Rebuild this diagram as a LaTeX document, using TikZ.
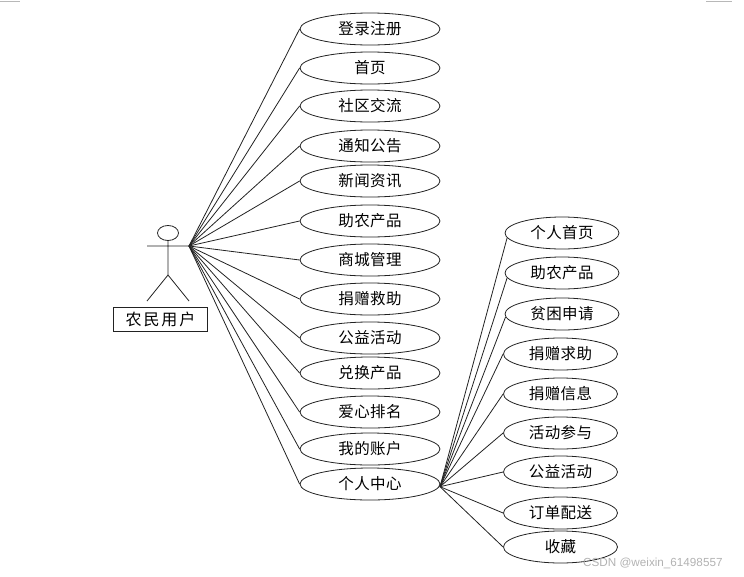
\documentclass[tikz,border=0pt]{standalone}
\usepackage{fontspec}
\setmainfont{Liberation Sans}
\newfontfamily\cjk[LetterSpace=3]{Noto Sans CJK SC}
\newfontfamily\cjkwide[LetterSpace=12]{Noto Sans CJK SC}
\usetikzlibrary{shapes.geometric}
\definecolor{linec}{HTML}{222222}
\tikzset{
  uc/.style={draw=linec,line width=0.8pt,ellipse,minimum width=140pt,minimum height=32pt,inner sep=0pt,font=\cjk\fontsize{15.5}{17}\selectfont},
  ucr/.style={uc,minimum width=114pt},
  link/.style={draw=linec,line width=0.8pt},
  actor/.style={draw=linec,line width=0.8pt},
  actorlabel/.style={draw=linec,line width=0.8pt,minimum width=94pt,minimum height=24.5pt,inner sep=0pt,font=\cjkwide\fontsize{16}{18}\selectfont},
  edgemark/.style={draw=black!28,line width=1pt},
  wm/.style={text=black!30,font=\fontsize{11.7}{13}\selectfont,inner sep=0pt}
}
\begin{document}
\begin{tikzpicture}[x=1pt,y=-1pt]
\useasboundingbox (0,0) rectangle (744,576);
\draw[edgemark] (0,1) -- (20,1);
\draw[edgemark] (706,1) -- (732,1);
% actor
\node[actor,ellipse,minimum width=21pt,minimum height=15pt,inner sep=0pt] (head) at (168,233) {};
\coordinate (hip) at (168,275);
\coordinate (armL) at (147,246);
\coordinate (hand) at (189,246);
\coordinate (footL) at (147,301);
\coordinate (footR) at (189,301);
\draw[actor] (head.south) -- (hip) -- (footL) (hip) -- (footR) (armL) -- (hand);
\node[actorlabel] (role) at (160.5,319.3) {农民用户};
% main use cases
\node[uc] (a1) at (370,29) {登录注册};
\node[uc] (a2) at (370,68) {首页};
\node[uc] (a3) at (370,106) {社区交流};
\node[uc] (a4) at (370,146) {通知公告};
\node[uc] (a5) at (370,181) {新闻资讯};
\node[uc] (a6) at (370,221) {助农产品};
\node[uc] (a7) at (370,260) {商城管理};
\node[uc] (a8) at (370,299) {捐赠救助};
\node[uc] (a9) at (370,338) {公益活动};
\node[uc] (a10) at (370,373) {兑换产品};
\node[uc] (a11) at (370,412) {爱心排名};
\node[uc] (a12) at (370,449) {我的账户};
\node[uc] (a13) at (370,484) {个人中心};
\foreach \n in {1,...,13} \draw[link] (hand) -- (a\n.west);
% personal centre
\coordinate (hub) at (440,486.7);
\node[ucr] (b1) at (562,233) {个人首页};
\node[ucr] (b2) at (562,273) {助农产品};
\node[ucr] (b3) at (562,314) {贫困申请};
\node[ucr] (b4) at (560.5,354) {捐赠求助};
\node[ucr] (b5) at (560.5,394) {捐赠信息};
\node[ucr] (b6) at (560.5,433) {活动参与};
\node[ucr] (b7) at (560.5,472) {公益活动};
\node[ucr] (b8) at (560.5,513) {订单配送};
\node[ucr] (b9) at (560.5,547) {收藏};
\foreach \n/\ang in {1/185,2/185,3/183}
  \draw[link] (hub) -- (b\n.\ang);
\foreach \n in {4,...,9} \draw[link] (hub) -- (b\n.west);
\node[wm,anchor=west] (wmtext) at (583,563) {CSDN @weixin\_61498557};
\end{tikzpicture}
\end{document}
